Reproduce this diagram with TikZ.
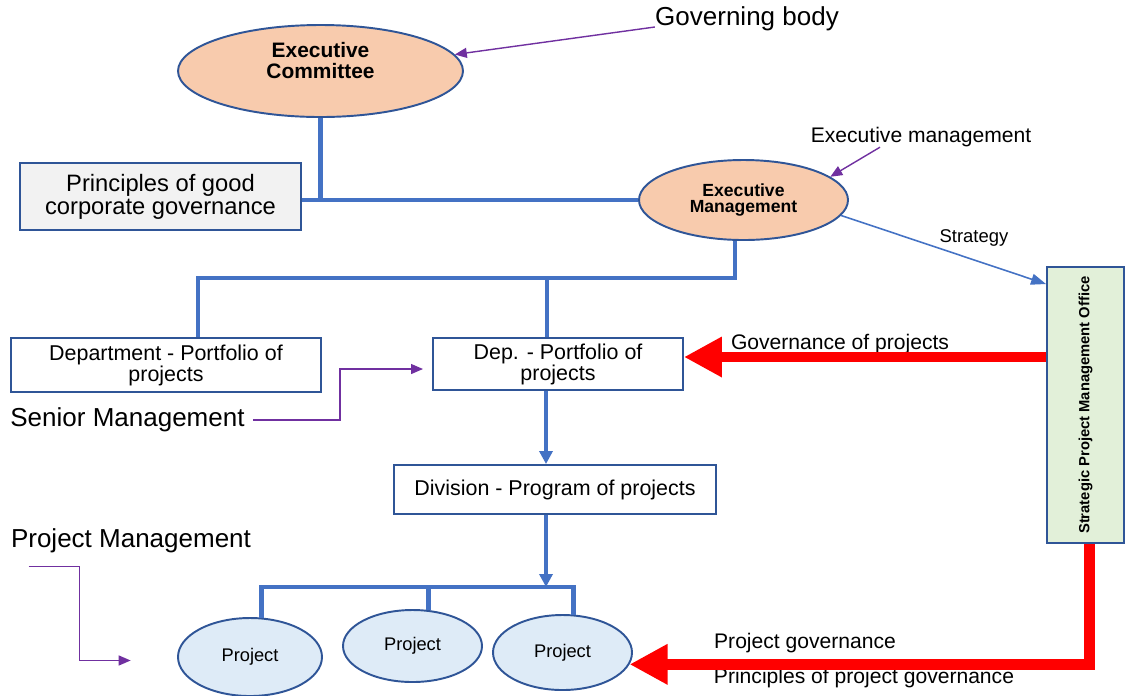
\documentclass[tikz,border=0pt]{standalone}
\usepackage{fontspec}
\setmainfont{Liberation Sans}
\usetikzlibrary{positioning, shapes.geometric, arrows.meta}

\definecolor{linkblue}{HTML}{4472C4}
\definecolor{edgeblue}{HTML}{2F5597}
\definecolor{peach}{HTML}{F8CBAD}
\definecolor{paleblue}{HTML}{DEEBF7}
\definecolor{palegreen}{HTML}{E2F0D9}
\definecolor{palegray}{HTML}{F2F2F2}
\definecolor{govpurple}{HTML}{7030A0}

\begin{document}
\begin{tikzpicture}[
    board/.style={ellipse, draw=edgeblue, line width=1.1pt, fill=peach, inner sep=0pt, align=center},
    unit/.style={rectangle, draw=edgeblue, line width=1.1pt, fill=white, inner sep=0pt, align=center, font=\fontsize{12.2}{12}\selectfont},
    project/.style={ellipse, draw=edgeblue, line width=1.1pt, fill=paleblue, inner sep=0pt, font=\fontsize{10.4}{12}\selectfont},
    tag/.style={inner sep=0pt, font=\fontsize{12}{14}\selectfont},
    bigtag/.style={inner sep=0pt, font=\fontsize{14.8}{17}\selectfont},
    trunk/.style={draw=linkblue, line width=2.8pt},
    trunkarrow/.style={trunk, -{Triangle[length=0.26cm, width=0.26cm]}},
    feed/.style={draw=linkblue, line width=0.9pt, -{Triangle[length=0.3cm, width=0.22cm]}},
    pointer/.style={draw=govpurple, line width=0.8pt, -{Triangle[length=0.24cm, width=0.2cm]}},
    redflow/.style={draw=red, line width=6pt, -{Triangle[length=0.76cm, width=0.76cm]}},
]
    \useasboundingbox (0,0) rectangle (22.52,-13.9);

    % board
    \node[board, minimum width=5.7cm, minimum height=1.84cm, font=\fontsize{11.9}{12}\selectfont\bfseries] (excom) at (6.41,-1.42) {Executive\\Committee\\~};
    \node[bigtag] (govbody) at (14.94,-0.38) {Governing body};
    \node[unit, fill=palegray, minimum width=5.62cm, minimum height=1.34cm, font=\fontsize{13.5}{13.2}\selectfont] (principles) at (3.21,-3.93) {Principles of good\\corporate governance};
    \node[board, minimum width=4.18cm, minimum height=1.6cm, font=\fontsize{10}{9.4}\selectfont\bfseries] (exmgmt) at (14.87,-4.0) {Executive\\Management};
    \node[tag] (exlabel) at (18.42,-2.74) {Executive management};
    \node[tag, font=\fontsize{10.5}{12}\selectfont] (strategy) at (19.48,-4.76) {Strategy};
    \node[unit, fill=palegreen, minimum width=1.54cm, minimum height=5.52cm] (spmo) at (21.71,-8.1) {\rotatebox{90}{\fontsize{8.4}{10}\selectfont\bfseries Strategic Project Management Office}};

    % portfolios
    \node[unit, minimum width=6.2cm, minimum height=1.08cm] (dept) at (3.32,-7.3) {Department - Portfolio of\\projects};
    \node[unit, minimum width=5.0cm, minimum height=1.04cm] (dep) at (11.16,-7.28) {Dep. - Portfolio of\\projects};
    \node[tag] (govproj) at (16.8,-6.88) {Governance of projects};
    \node[bigtag] (senior) at (2.55,-8.4) {Senior Management};
    \node[unit, minimum width=6.44cm, minimum height=0.98cm] (division) at (11.1,-9.79) {Division - Program of projects};

    % projects
    \node[bigtag] (projmgmt) at (2.62,-10.82) {Project Management};
    \node[project, minimum width=2.88cm, minimum height=1.56cm] (proj1) at (5.0,-13.14) {Project};
    \node[project, minimum width=2.78cm, minimum height=1.44cm] (proj2) at (8.25,-12.92) {Project};
    \node[project, minimum width=2.78cm, minimum height=1.5cm] (proj3) at (11.25,-13.05) {Project};
    \node[tag] (projgov) at (16.1,-12.86) {Project governance};
    \node[tag] (projprinc) at (17.28,-13.56) {Principles of project governance};

    \coordinate (fork) at (0,-5.56);
    \coordinate (spine) at (10.92,0);
    \coordinate (bar) at (0,-11.74);
    \coordinate (sentip) at (8.46,-7.38);
    \coordinate (govrow) at ([yshift=0.14cm]dep.east);

    % links
    \draw[trunk] (exmgmt.west -| principles.east) -- (exmgmt.west);
    \draw[trunk] (excom.south) -- (excom.south |- exmgmt.west);
    \draw[trunk] ([xshift=-0.17cm]exmgmt.south) -- ([xshift=-0.17cm]exmgmt.south |- fork) -| ([xshift=0.64cm]dept.north);
    \draw[trunk] ([xshift=-0.22cm]dep.north) -- ([xshift=-0.22cm]dep.north |- fork);
    \draw[trunkarrow] (dep.south -| spine) -- (division.north -| spine);
    \draw[trunkarrow] (division.south -| spine) -- (spine |- bar);
    \draw[trunk] (proj1.74) -- (proj1.74 |- bar) -- (proj3.74 |- bar) -- (proj3.74);
    \draw[trunk] (proj2.66) -- (proj2.66 |- bar);

    \draw[feed] (exmgmt.-9) -- ([yshift=-0.36cm]spmo.north west);
    \draw[redflow] (govrow -| spmo.west) -- (govrow);
    \draw[redflow] ([xshift=0.08cm]spmo.south) |- (proj3.-10);

    % pointers
    \draw[pointer] ([yshift=-0.16cm]govbody.west) -- (excom.7);
    \draw[pointer] ([xshift=-0.82cm]exlabel.south) -- (exmgmt.15);
    \draw[pointer] ([xshift=0.16cm]senior.east) -- ++(1.74,0) |- (sentip);
    \draw[pointer] ([xshift=0.36cm,yshift=-0.26cm]projmgmt.south west) -- ++(1.02,0) -- ++(0,-1.88) -- ++(1.02,0);
\end{tikzpicture}
\end{document}
